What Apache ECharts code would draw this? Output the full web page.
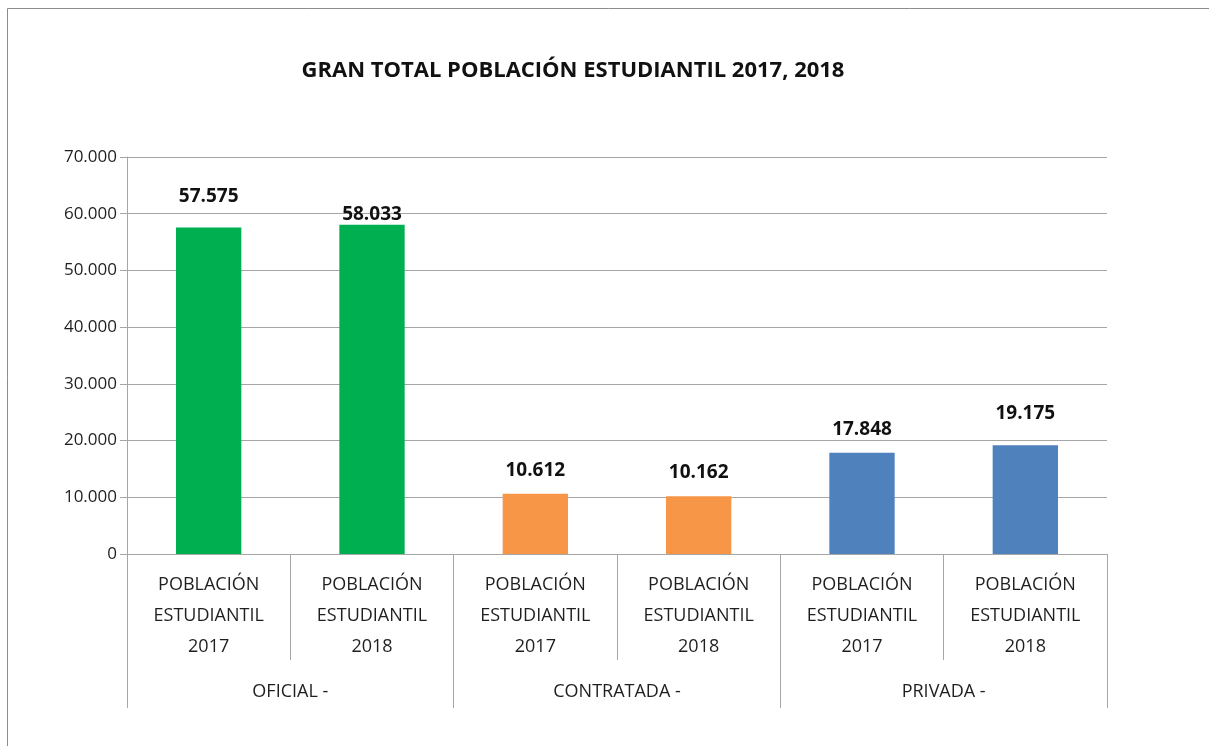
<!DOCTYPE html>
<html>
<head>
<meta charset="utf-8">
<script src="https://cdn.jsdelivr.net/npm/echarts@6/dist/echarts.min.js"></script>
<style>
  html, body { margin: 0; padding: 0; background: #fff; }
  #chart { width: 1209px; height: 746px; }
</style>
</head>
<body>
<div id="chart"></div>
<script>
// ── Data ─────────────────────────────────────────────────────────────────
const CATEGORIES = [
  'POBLACIÓN\nESTUDIANTIL\n2017', 'POBLACIÓN\nESTUDIANTIL\n2018',
  'POBLACIÓN\nESTUDIANTIL\n2017', 'POBLACIÓN\nESTUDIANTIL\n2018',
  'POBLACIÓN\nESTUDIANTIL\n2017', 'POBLACIÓN\nESTUDIANTIL\n2018'
]
const GROUPS = ['OFICIAL -', 'CONTRATADA -', 'PRIVADA -']
const VALUES = [57575, 58033, 10612, 10162, 17848, 19175]
const GROUP_COLORS = ['#00B050', '#F79646', '#4F81BD']

const FONT = '"Open Sans", "Liberation Sans", sans-serif'
const GRAY = '#a6a6a6'
const TEXT = '#1f1f1f'

// thousands separator with dots, as in the source
const fmt = (v) => String(v).replace(/\B(?=(\d{3})+(?!\d))/g, '.')

// Excel placed a few value labels a bit off the default gap
const labelGap = { 0: 21, 1: 1, 5: 22 }

const chart = echarts.init(document.getElementById('chart'))

chart.setOption({
  animation: false,
  textStyle: { fontFamily: FONT },
  title: {
    text: 'GRAN TOTAL POBLACIÓN ESTUDIANTIL 2017, 2018',
    left: 568,
    textAlign: 'center',
    top: 55,
    textStyle: { fontFamily: FONT, fontSize: 22, fontWeight: 'bold', color: '#111' }
  },
  graphic: [{
    type: 'rect',
    shape: { x: 7.5, y: 8.5, width: 1300, height: 800 },
    style: { fill: 'none', stroke: '#8c8c8c', lineWidth: 1 },
    silent: true
  }],
  grid: { left: 127, right: 102, top: 157, bottom: 192 },
  xAxis: [
    {
      type: 'category',
      data: CATEGORIES,
      position: 'bottom',
      axisLine: { show: true, lineStyle: { color: GRAY } },
      axisTick: { show: true, interval: 0, length: 106, lineStyle: { color: GRAY } },
      axisLabel: {
        interval: 0, margin: 15, fontSize: 18, lineHeight: 31,
        color: TEXT, fontFamily: FONT, align: 'center'
      }
    },
    {
      type: 'category',
      data: GROUPS,
      position: 'bottom',
      axisLine: { show: false },
      axisTick: { show: true, interval: 0, length: 154, lineStyle: { color: GRAY } },
      axisLabel: { interval: 0, margin: 129, fontSize: 18, color: TEXT, fontFamily: FONT }
    }
  ],
  yAxis: {
    type: 'value',
    min: 0,
    max: 70000,
    interval: 10000,
    axisLine: { show: true, lineStyle: { color: GRAY } },
    axisTick: { show: true, length: 7, lineStyle: { color: GRAY } },
    splitLine: { lineStyle: { color: GRAY, width: 1 } },
    axisLabel: { formatter: fmt, fontSize: 17, color: TEXT, margin: 10, fontFamily: FONT }
  },
  series: [{
    type: 'bar',
    xAxisIndex: 0,
    data: VALUES.map((v, i) => (i in labelGap ? { value: v, label: { distance: labelGap[i] } } : v)),
    barWidth: '40%',
    itemStyle: { color: (p) => GROUP_COLORS[Math.floor(p.dataIndex / 2)] },
    label: {
      show: true,
      position: 'top',
      distance: 14,
      formatter: (p) => fmt(p.value),
      fontSize: 19,
      fontWeight: 'bold',
      color: '#111',
      fontFamily: FONT
    }
  }]
})
</script>
</body>
</html>
